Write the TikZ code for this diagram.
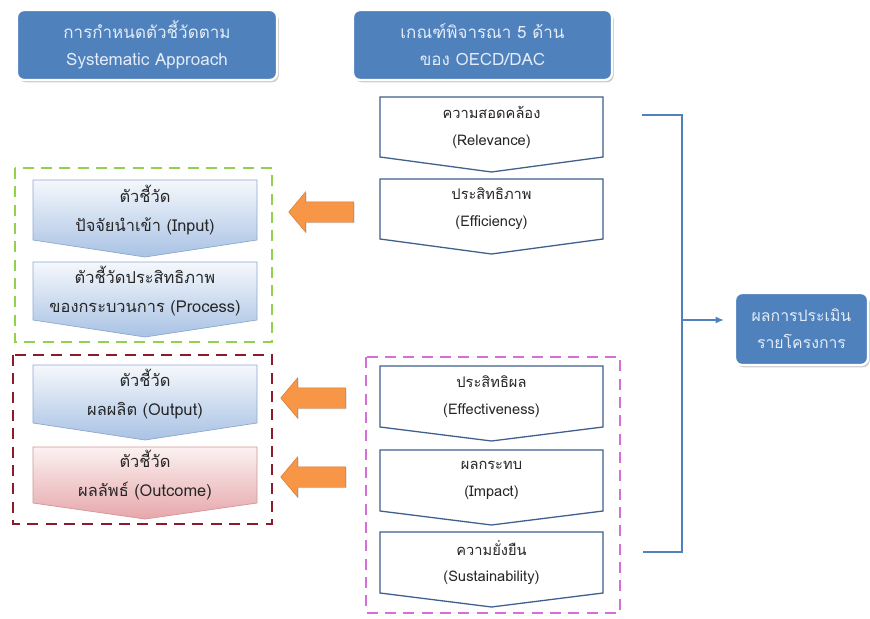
\documentclass[tikz,border=0pt]{standalone}
\usepackage{fontspec}
\setmainfont[Script=Thai]{Loma}
\usetikzlibrary{shapes.arrows,shadows,arrows.meta}
\definecolor{hdrblue}{HTML}{4F81BD}
\definecolor{hdrtext}{HTML}{E4ECF7}
\definecolor{critline}{HTML}{3F5F8C}
\definecolor{indtop}{HTML}{F5F8FC}
\definecolor{indbot}{HTML}{A9C2E4}
\definecolor{indline}{HTML}{8DA8CF}
\definecolor{outtop}{HTML}{FCF1F1}
\definecolor{outbot}{HTML}{E6A7AA}
\definecolor{outline}{HTML}{D39597}
\definecolor{frgreen}{HTML}{92D050}
\definecolor{frred}{HTML}{8B1A2C}
\definecolor{frpink}{HTML}{D46FD8}
\definecolor{arrorange}{HTML}{F79646}
\definecolor{arrdark}{HTML}{D9782F}

% chevron: name, style, left, top, right, side bottom, tip, text
\newcommand{\chevron}[8]{%
  \path[#2] (#3,#4) -- (#5,#4) -- (#5,#6) -- ({(#3+#5)/2},#7) -- (#3,#6) -- cycle;
  \node[chevtext] (#1) at ({(#3+#5)/2},{(#4+#6)/2}) {#8};}

\begin{document}
\begin{tikzpicture}
[x=0.03cm,y=-0.03cm,
header/.style={rectangle, rounded corners=6pt, fill=hdrblue, draw=white,
  line width=2pt, text=hdrtext, align=center, minimum height=2.1cm,
  font=\fontsize{14.5}{23}\selectfont,
  drop shadow={shadow xshift=1.5pt, shadow yshift=-2pt, fill=black!40}},
chevtext/.style={align=center, text=black!85, font=\fontsize{12}{23}\selectfont},
indtext/.style={font=\fontsize{14}{24}\selectfont},
critbox/.style={draw=critline, line width=1.1pt, fill=white},
indbox/.style={top color=indtop, bottom color=indbot, draw=indline,
  line width=0.6pt},
outbox/.style={top color=outtop, bottom color=outbot, draw=outline,
  line width=0.6pt},
frame/.style={line width=2pt, dash pattern=on 0.33cm off 0.22cm},
feed/.style={single arrow, shape border rotate=180, fill=arrorange,
  draw=arrdark, line width=0.4pt, minimum height=1.95cm,
  inner xsep=0pt, inner ysep=0.3cm,
  single arrow head extend=0.3cm, single arrow tip angle=100,
  drop shadow={shadow xshift=0.8pt, shadow yshift=-0.8pt, fill=black!30}},
bracket/.style={draw=hdrblue, line width=1.2pt}]
\useasboundingbox (0,0) rectangle (870,619);

% headers
\node [header, minimum width=7.8cm] (sysHead) at (147,45)
  {การกำหนดตัวชี้วัดตาม\\ Systematic Approach};
\node [header, minimum width=7.77cm] (oecdHead) at (482.5,45)
  {เกณฑ์พิจารณา 5 ด้าน\\ ของ OECD/DAC};

% grouping frames
\draw [frame, draw=frgreen] (15,168) rectangle (272,342);
\draw [frame, draw=frred] (13,355) rectangle (272,524);
\draw [frame, draw=frpink] (366,357) rectangle (620,613);

% indicators
\tikzset{chevtext/.append style={indtext}}
\chevron{input}{indbox}{33}{180}{257}{240}{257}{ตัวชี้วัด\\ ปัจจัยนำเข้า (Input)}
\chevron{process}{indbox}{33}{262}{257}{320}{337}{ตัวชี้วัดประสิทธิภาพ\\ ของกระบวนการ (Process)}
\chevron{output}{indbox}{33}{365}{257}{423}{440}{ตัวชี้วัด\\ ผลผลิต (Output)}
\chevron{outcome}{outbox}{33}{447}{257}{503}{519}{ตัวชี้วัด\\ ผลลัพธ์ (Outcome)}

% criteria
\tikzset{chevtext/.append style={font=\fontsize{12.5}{23}\selectfont}}
\chevron{relev}{critbox}{380}{97}{603}{157}{172}{ความสอดคล้อง\\ (Relevance)}
\chevron{effic}{critbox}{380}{179}{603}{239}{254}{ประสิทธิภาพ\\ (Efficiency)}
\chevron{effect}{critbox}{380}{366}{603}{427}{441}{ประสิทธิผล\\ (Effectiveness)}
\chevron{impact}{critbox}{380}{450}{603}{511}{525}{ผลกระทบ\\ (Impact)}
\chevron{sustain}{critbox}{380}{532}{603}{593}{607}{ความยั่งยืน\\ (Sustainability)}

% orange arrows
\node [feed] (feedIn) at (325.5,212) {};
\node [feed] (feedOut) at (317.5,398) {};
\node [feed] (feedOc) at (317.5,477) {};

% result
\node [header, minimum width=3.99cm, minimum height=2.16cm,
  font=\fontsize{13.5}{23}\selectfont] (result) at (801.5,329)
  {ผลการประเมิน\\ รายโครงการ};

% bracket
\coordinate (brkTop) at (642,115);
\coordinate (brkBot) at (643,552);
\coordinate (brkMid) at (682,320);
\draw [bracket] (brkTop) -- ++(40,0) |- (brkBot);
\draw [bracket, -{Latex[length=7pt,width=6pt]}, shorten >=0.3cm]
  (brkMid) -- (result.west |- brkMid);
\end{tikzpicture}
\end{document}
